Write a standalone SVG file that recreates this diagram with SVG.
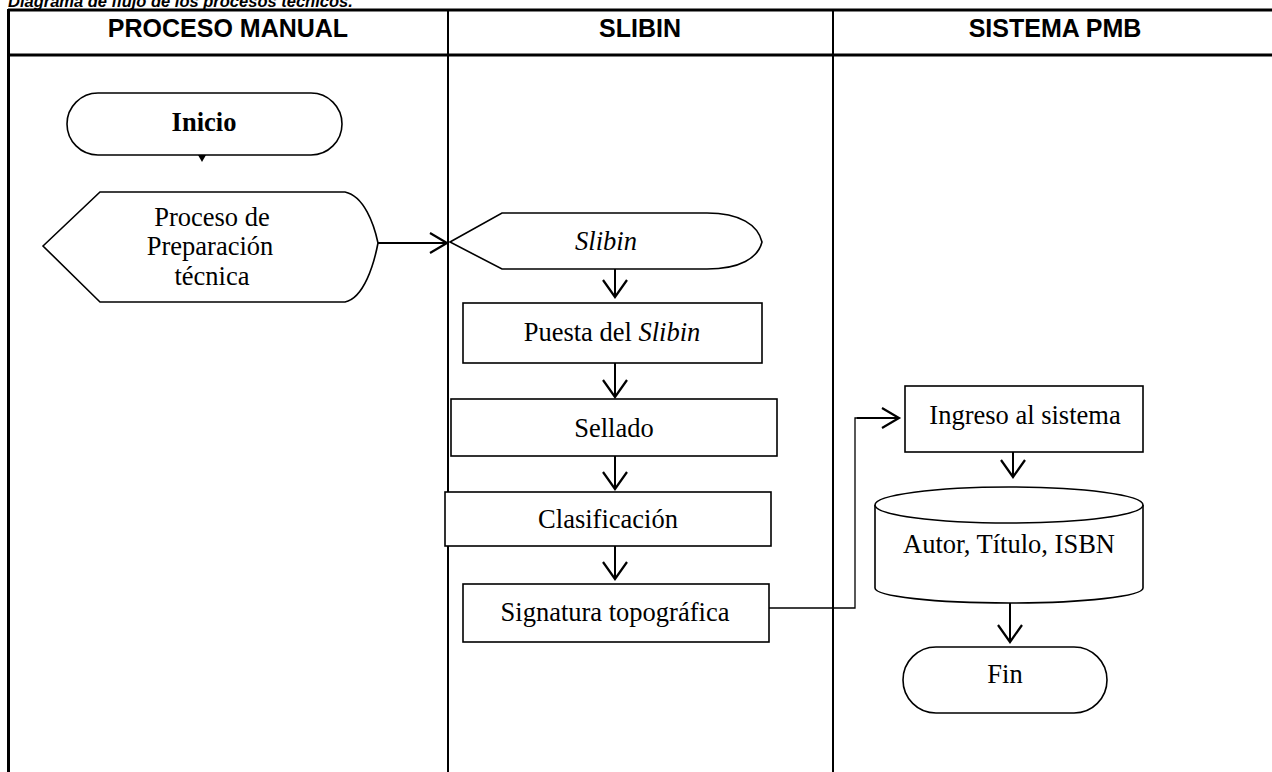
<svg xmlns="http://www.w3.org/2000/svg" width="1272" height="772" viewBox="0 0 1272 772">
<style>
.grid{stroke:#000;fill:none}
.hdr{font-family:"Liberation Sans",Arial,sans-serif;font-weight:bold;font-size:25px;text-anchor:middle;fill:#000}
.ttl{font-family:"Liberation Sans",Arial,sans-serif;font-weight:bold;font-style:italic;font-size:16.5px;fill:#000}
.shape{fill:#fff;stroke:#000;stroke-width:1.6}
.lbl{font-family:"Liberation Serif","Times New Roman",serif;font-size:26.5px;text-anchor:middle;fill:#000}
.it{font-style:italic}
.conn{fill:none;stroke:#000;stroke-width:2}
.head{fill:none;stroke:#000;stroke-width:2.2}
</style>
<rect width="1272" height="772" fill="#fff"/>
<g id="table">
<text class="ttl" x="8" y="7">Diagrama de flujo de los procesos técnicos.</text>
<line class="grid" x1="8" y1="10" x2="1272" y2="10" stroke-width="3"/>
<line class="grid" x1="8" y1="55" x2="1272" y2="55" stroke-width="3"/>
<line class="grid" x1="8.5" y1="9" x2="8.5" y2="772" stroke-width="3"/>
<line class="grid" x1="448" y1="10" x2="448" y2="772" stroke-width="2"/>
<line class="grid" x1="833" y1="10" x2="833" y2="772" stroke-width="2"/>
<text class="hdr" x="228" y="37">PROCESO MANUAL</text>
<text class="hdr" x="640" y="37">SLIBIN</text>
<text class="hdr" x="1055" y="37">SISTEMA PMB</text>
</g>
<g id="connectors">
<polygon points="198,155 206,155 202,162" fill="#000"/>
<line class="conn" x1="378" y1="243" x2="447" y2="243"/>
<polyline class="head" points="430,233 447,243 430,253"/>
<line class="conn" x1="615" y1="269" x2="615" y2="297"/>
<polyline class="head" points="603,280 615,297 627,280"/>
<line class="conn" x1="615" y1="363" x2="615" y2="397"/>
<polyline class="head" points="603,380 615,397 627,380"/>
<line class="conn" x1="615" y1="456" x2="615" y2="489"/>
<polyline class="head" points="603,472 615,489 627,472"/>
<line class="conn" x1="615" y1="546" x2="615" y2="579"/>
<polyline class="head" points="603,562 615,579 627,562"/>
<polyline points="769,608 855,608 855,418 899,418" fill="none" stroke="#000" stroke-width="1.3"/>
<line class="conn" x1="857" y1="418" x2="899" y2="418"/>
<polyline class="head" points="882,408 899,418 882,428"/>
<line class="conn" x1="1013" y1="452" x2="1013" y2="477"/>
<polyline class="head" points="1001,460 1013,477 1025,460"/>
<line class="conn" x1="1010" y1="603" x2="1010" y2="642"/>
<polyline class="head" points="998,625 1010,642 1022,625"/>
</g>
<g id="inicio">
<rect class="shape" x="67" y="93" width="275" height="62" rx="31" ry="31"/>
<text class="lbl" x="204" y="131" font-weight="bold">Inicio</text>
</g>
<g id="proceso">
<path class="shape" d="M43,246 L100,192 L345,192 C364,196 374,224 378,243 C374,264 364,298 345,302 L100,302 Z"/>
<text class="lbl" x="212" y="226" font-size="27.5">Proceso de</text>
<text class="lbl" x="210" y="255" font-size="27.5">Preparación</text>
<text class="lbl" x="212" y="285" font-size="27.5">técnica</text>
</g>
<g id="slibin">
<path class="shape" d="M450,242 L502,213 L707,213 C740,213 758,225 762,242 C758,258 740,269 707,269 L502,269 Z"/>
<text class="lbl it" x="606" y="250">Slibin</text>
</g>
<g id="puesta">
<rect class="shape" x="463" y="303" width="299" height="60"/>
<text class="lbl" x="612" y="341">Puesta del <tspan class="it">Slibin</tspan></text>
</g>
<g id="sellado">
<rect class="shape" x="451" y="399" width="326" height="57"/>
<text class="lbl" x="614" y="437">Sellado</text>
</g>
<g id="clasificacion">
<rect class="shape" x="445" y="492" width="326" height="54"/>
<text class="lbl" x="608" y="528">Clasificación</text>
</g>
<g id="signatura">
<rect class="shape" x="463" y="584" width="306" height="58"/>
<text class="lbl" x="615" y="621">Signatura topográfica</text>
</g>
<g id="ingreso">
<rect class="shape" x="905" y="386" width="238" height="66"/>
<text class="lbl" x="1025" y="424">Ingreso al sistema</text>
</g>
<g id="datos">
<path class="shape" d="M875,505 A134,18 0 0 1 1143,505 L1143,588 A134,15 0 0 1 875,588 Z"/>
<path class="shape" fill="none" d="M875,505 A134,18 0 0 0 1143,505"/>
<text class="lbl" x="1009" y="553">Autor, Título, ISBN</text>
</g>
<g id="fin">
<rect class="shape" x="903" y="647" width="204" height="66" rx="33" ry="33"/>
<text class="lbl" x="1005" y="683">Fin</text>
</g>
</svg>
